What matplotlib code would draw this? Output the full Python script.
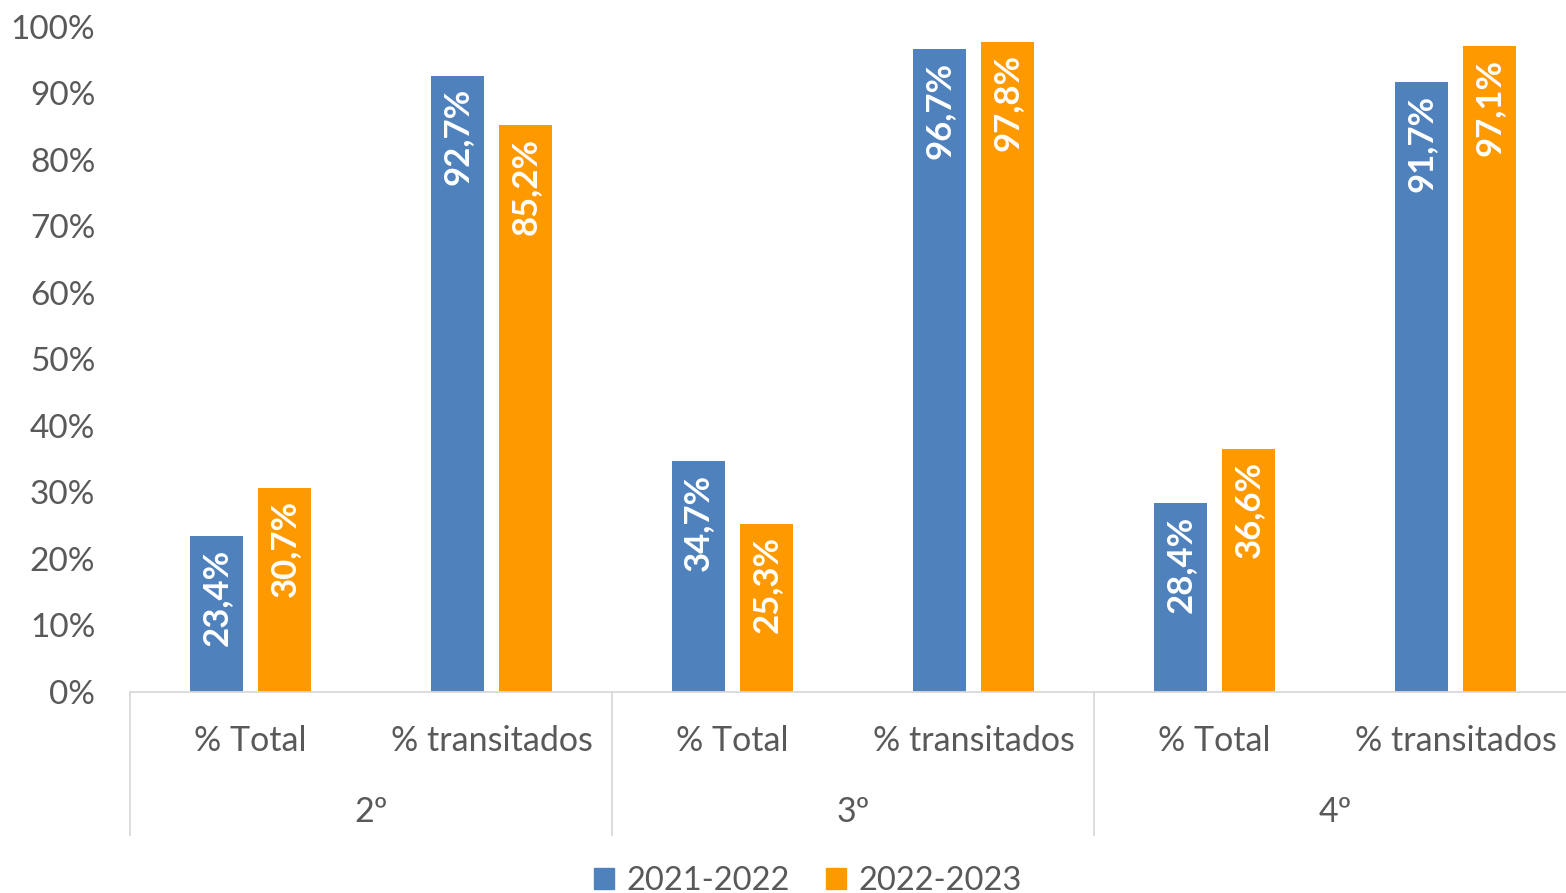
import matplotlib
matplotlib.use("Agg")
import matplotlib.pyplot as plt
import matplotlib.transforms as mtransforms
from matplotlib.patches import Patch

plt.rcParams['font.family'] = ['Lato', 'DejaVu Sans']

groups = ["2º", "3º", "4º"]
subcats = ["% Total", "% transitados"]
series = ["2021-2022", "2022-2023"]
v2122 = [23.4, 92.7, 34.7, 96.7, 28.4, 91.7]
v2223 = [30.7, 85.2, 25.3, 97.8, 36.6, 97.1]
colors = ["#4F81BD", "#FF9900"]
grey = "#595959"

fig = plt.figure(figsize=(15.66, 8.93), dpi=100)
ax = fig.add_axes([0.083, 0.2251, 0.9234, 0.7447])

x = list(range(len(v2122)))
w = 0.222
off = 0.142
for vals, col, sgn in [(v2122, colors[0], -1), (v2223, colors[1], 1)]:
    pos = [i + sgn * off for i in x]
    bars = ax.bar(pos, vals, width=w, color=col, zorder=2)
    for b, v in zip(bars, vals):
        ax.annotate(f"{v:.1f}%".replace(".", ","),
                    (b.get_x() + b.get_width() / 2, v),
                    xytext=(0, -9), textcoords="offset points",
                    rotation=90, ha="center", va="top",
                    color="white", fontweight="bold", fontsize=25)

ax.set_ylim(0, 100)
ax.set_xlim(-0.5, len(x) - 0.5)
ax.set_yticks(range(0, 101, 10))
ax.set_yticklabels([f"{t}%" for t in range(0, 101, 10)], fontsize=24, color=grey)
ax.tick_params(axis="y", length=0, pad=25)
ax.set_xticks(x)
ax.set_xticklabels(subcats * len(groups), fontsize=24.5, color=grey)
ax.tick_params(axis="x", length=0, pad=24)

for s in ["top", "right", "left"]:
    ax.spines[s].set_visible(False)
ax.spines["bottom"].set_color("#D9D9D9")
ax.spines["bottom"].set_linewidth(1.3)

trans = mtransforms.blended_transform_factory(ax.transData, ax.transAxes)
for k in range(len(groups) + 1):
    xs = k * 2 - 0.5
    ax.plot([xs, xs], [0, -0.215], transform=trans, color="#D9D9D9",
            lw=1.3, clip_on=False)
for k, g in enumerate(groups):
    ax.text(k * 2 + 0.5, -0.18, g, transform=trans, ha="center", va="center",
            fontsize=24.5, color=grey)

handles = [Patch(color=c) for c in colors]
fig.legend(handles, series, loc="lower center", ncol=2, frameon=False,
           fontsize=23.5, labelcolor=grey, bbox_to_anchor=(0.516, -0.036),
           handlelength=0.6, handleheight=0.6, handletextpad=0.4,
           columnspacing=1.1)

fig.savefig("out.png", dpi=100)
